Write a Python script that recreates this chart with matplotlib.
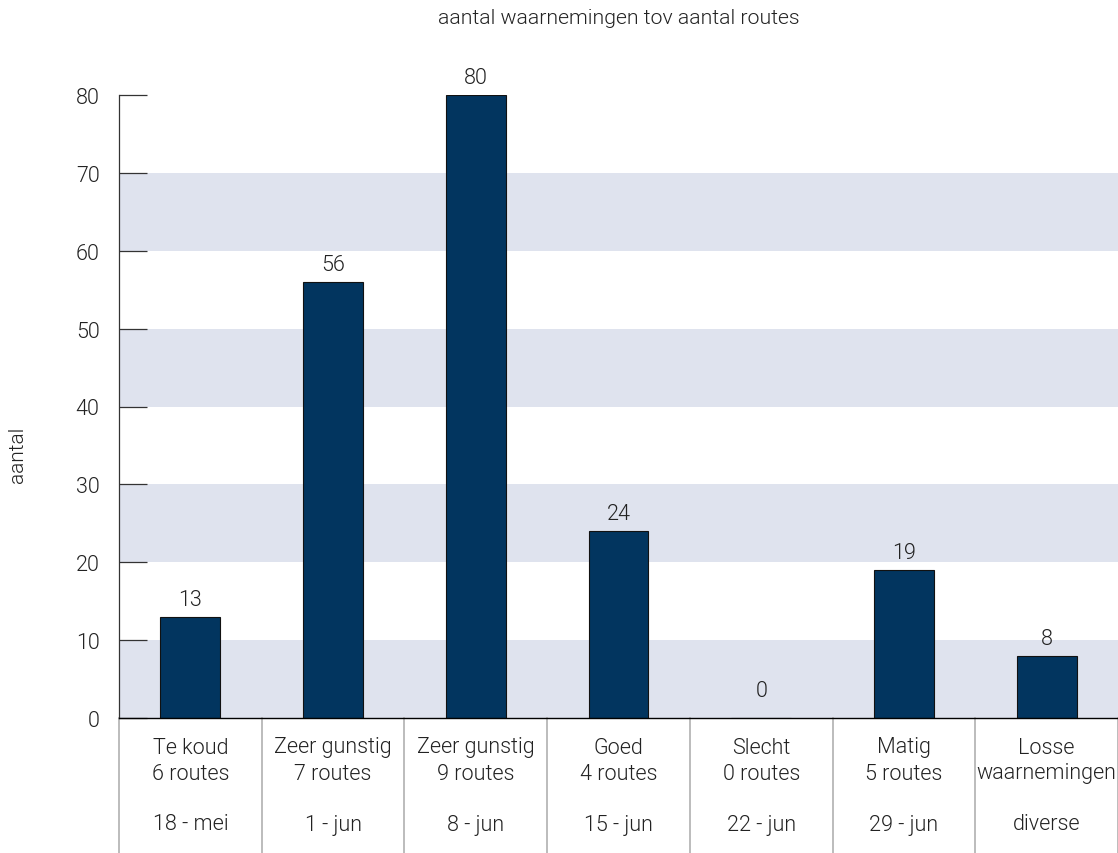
import matplotlib as mpl
mpl.use("Agg")
import matplotlib.pyplot as plt
import numpy as np

plt.rcParams['font.family'] = ['Roboto', 'DejaVu Sans']
plt.rcParams['font.weight'] = 300

categories = ["Te koud", "Zeer gunstig", "Zeer gunstig", "Goed", "Slecht", "Matig", "Losse"]
routes = ["6 routes", "7 routes", "9 routes", "4 routes", "0 routes", "5 routes", "waarnemingen"]
dates = ["18 - mei", "1 - jun", "8 - jun", "15 - jun", "22 - jun", "29 - jun", "diverse"]
values = [13, 56, 80, 24, 0, 19, 8]
yticks = [0, 10, 20, 30, 40, 50, 60, 70, 80]

bar_color = "#02355f"
band_color = "#dfe3ee"
text_color = "#222222"
fs = 15.5

fig = plt.figure(figsize=(11.18, 8.54), dpi=100)
ax = fig.add_axes([119 / 1118, 1 - 719 / 854, 1 - 119 / 1118, (719 - 96) / 854])

x = np.arange(len(values))
ax.set_xlim(-0.5, len(values) - 0.5)
ax.set_ylim(0, 80)

# alternating bands
for lo in range(0, 80, 20):
    ax.axhspan(lo, lo + 10, color=band_color, lw=0, zorder=0)

ax.bar(x, values, width=0.42, color=bar_color, edgecolor="#111111", linewidth=0.8, zorder=2)
for xi, v in zip(x, values):
    off = 12.5 if v > 0 else 19.5
    ax.annotate(str(v), (xi, v), xytext=(0, off), textcoords="offset points",
                ha="center", va="center", fontsize=fs, color=text_color,
                fontweight=300, annotation_clip=False)

ax.set_yticks(yticks)
ax.set_yticklabels([str(t) for t in yticks], fontsize=fs, color=text_color, fontweight=300)
ax.tick_params(axis="y", direction="in", length=20, width=0.9, color="#333333", pad=14)
ax.set_xticks([])

for s in ["top", "right"]:
    ax.spines[s].set_visible(False)
ax.spines["left"].set_color("#333333")
ax.spines["bottom"].set_color("black")
ax.spines["left"].set_linewidth(0.9)
ax.spines["bottom"].set_linewidth(1.0)

# category separators and labels below the axis
trans = ax.get_xaxis_transform()
h = 623.0
for b in np.arange(-0.5, len(values), 1.0):
    ax.plot([b, b], [0, -140 / h], transform=trans, color="#b0b0b0", lw=1.2, clip_on=False, zorder=1)
for xi, c, r, d in zip(x, categories, routes, dates):
    ax.text(xi, -29 / h, c, transform=trans, ha="center", va="center", fontsize=fs,
            color=text_color, fontweight=300)
    ax.text(xi, -55 / h, r, transform=trans, ha="center", va="center", fontsize=fs,
            color=text_color, fontweight=300)
    ax.text(xi, -106 / h, d, transform=trans, ha="center", va="center", fontsize=fs,
            color=text_color, fontweight=300)

fig.text(619 / 1118, 1 - 19 / 854, "aantal waarnemingen tov aantal routes", ha="center", va="center",
         fontsize=15.3, color=text_color, fontweight=300)
fig.text(18 / 1118, 1 - 455 / 854, "aantal", rotation=90, ha="center", va="center",
         fontsize=15, color=text_color, fontweight=300)

fig.savefig("out.png", dpi=100)
